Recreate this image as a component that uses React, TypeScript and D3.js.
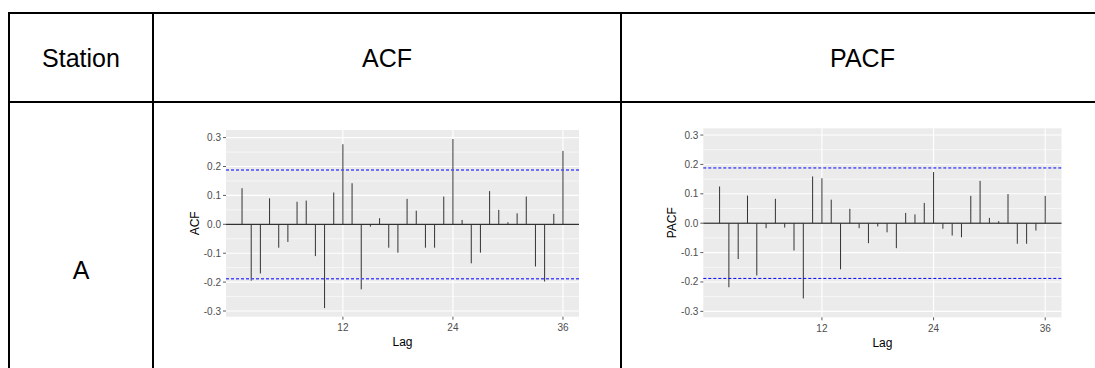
import React from "react";
import * as d3 from "d3";

// ACF / PACF values for station A, lags 1..36
const lags = d3.range(1, 37);
const acfValues = [
  0.125, -0.195, -0.17, 0.09, -0.081, -0.061, 0.078, 0.082, -0.11, -0.29,
  0.11, 0.277, 0.142, -0.225, -0.008, 0.021, -0.081, -0.098, 0.088, 0.047,
  -0.081, -0.081, 0.096, 0.295, 0.015, -0.135, -0.098, 0.115, 0.05, 0.007,
  0.038, 0.096, -0.146, -0.198, 0.036, 0.254,
];
const pacfValues = [
  0.125, -0.218, -0.122, 0.094, -0.178, -0.017, 0.083, -0.015, -0.093, -0.256,
  0.159, 0.153, 0.08, -0.157, 0.049, -0.017, -0.068, -0.011, -0.031, -0.085,
  0.035, 0.03, 0.069, 0.174, -0.019, -0.042, -0.048, 0.093, 0.144, 0.018,
  0.007, 0.099, -0.07, -0.07, -0.025, 0.093,
];
const ciLimit = 0.188;
const xTicks = [12, 24, 36];
const yTicks = [-0.3, -0.2, -0.1, 0, 0.1, 0.2, 0.3];
const yMinor = [-0.25, -0.15, -0.05, 0.05, 0.15, 0.25];
const headers = ["Station", "ACF", "PACF"];
const stationName = "A";

const FONT = "'Liberation Sans', Arial, sans-serif";

interface PanelProps {
  values: number[];
  yLabel: string;
  left: number;
  right: number;
  top: number;
  bottom: number;
  yDomain: [number, number];
  ciColor: string;
  ciWidth: number;
}

function AcfPanel({ values, yLabel, left, right, top, bottom, yDomain, ciColor, ciWidth }: PanelProps) {
  const x = d3.scaleLinear().domain([-0.75, 37.75]).range([left, right]);
  const y = d3.scaleLinear().domain(yDomain).range([bottom, top]);
  const tickCol = "#4D4D4D";

  return (
    <g>
      <rect x={left} y={top} width={right - left} height={bottom - top} fill="#EBEBEB" />
      {yMinor.map(v => (
        <line key={"mn" + v} x1={left} x2={right} y1={y(v)} y2={y(v)} stroke="#fff" strokeWidth={0.6} />
      ))}
      {yTicks.map(v => (
        <line key={"mj" + v} x1={left} x2={right} y1={y(v)} y2={y(v)} stroke="#fff" strokeWidth={1.1} />
      ))}
      {xTicks.map(v => (
        <line key={"xv" + v} x1={x(v)} x2={x(v)} y1={top} y2={bottom} stroke="#fff" strokeWidth={1.1} />
      ))}
      <line x1={left} x2={right} y1={y(0)} y2={y(0)} stroke="#000" strokeWidth={1} />
      {values.map((v, i) => (
        <line key={"b" + i} x1={x(lags[i])} x2={x(lags[i])} y1={y(0)} y2={y(v)} stroke="#333" strokeWidth={1} />
      ))}
      {[ciLimit, -ciLimit].map(v => (
        <line key={"ci" + v} x1={left} x2={right} y1={y(v)} y2={y(v)}
          stroke={ciColor} strokeWidth={ciWidth} strokeDasharray="3,2" />
      ))}
      {yTicks.map(v => (
        <g key={"yt" + v}>
          <line x1={left - 3} x2={left} y1={y(v)} y2={y(v)} stroke="#333" strokeWidth={0.8} />
          <text x={left - 5} y={y(v)} dy="0.35em" textAnchor="end" fontSize={10} fill={tickCol} fontFamily={FONT}>
            {v.toFixed(1)}
          </text>
        </g>
      ))}
      {xTicks.map(v => (
        <g key={"xt" + v}>
          <line x1={x(v)} x2={x(v)} y1={bottom} y2={bottom + 3} stroke="#333" strokeWidth={0.8} />
          <text x={x(v)} y={bottom + 14.5} textAnchor="middle" fontSize={10} fill={tickCol} fontFamily={FONT}>
            {v}
          </text>
        </g>
      ))}
      <text x={(left + right) / 2} y={bottom + 29.5} textAnchor="middle" fontSize={12} fill="#000" fontFamily={FONT}>
        Lag
      </text>
      <text transform={`translate(${left - 27.5},${(top + bottom) / 2}) rotate(-90)`} textAnchor="middle"
        fontSize={12} fill="#000" fontFamily={FONT}>
        {yLabel}
      </text>
    </g>
  );
}

export default function App() {
  const colX = [9, 153, 621, 1104];
  const rowY = [13, 102];
  const centers = [81, 387, 862.5];

  return (
    <svg width={1095} height={368} style={{ position: "absolute", left: 0, top: 0, background: "#fff" }}>
      {/* table borders */}
      {rowY.map(v => (
        <line key={"r" + v} x1={colX[0] - 1} x2={colX[3]} y1={v} y2={v} stroke="#000" strokeWidth={2} />
      ))}
      {colX.map(v => (
        <line key={"c" + v} x1={v} x2={v} y1={rowY[0] - 1} y2={368} stroke="#000" strokeWidth={2} />
      ))}
      {headers.map((h, i) => (
        <text key={h} x={centers[i]} y={67} textAnchor="middle" fontSize={25} fontFamily={FONT} fill="#000">
          {h}
        </text>
      ))}
      <text x={centers[0]} y={279} textAnchor="middle" fontSize={25} fontFamily={FONT} fill="#000">
        {stationName}
      </text>

      <AcfPanel values={acfValues} yLabel="ACF" left={226} right={579} top={130} bottom={316.7}
        yDomain={[-0.3197, 0.3263]} ciColor="#4a4aff" ciWidth={1.5} />
      <AcfPanel values={pacfValues} yLabel="PACF" left={703.3} right={1061.5} top={128.3} bottom={317.3}
        yDomain={[-0.3203, 0.323]} ciColor="#0000ff" ciWidth={1} />
    </svg>
  );
}
